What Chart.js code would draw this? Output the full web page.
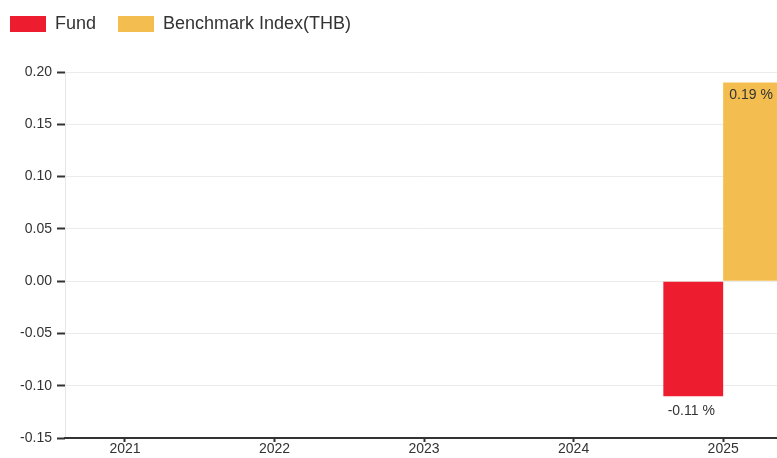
<!DOCTYPE html>
<html>
<head>
<meta charset="utf-8">
<script src="https://cdn.jsdelivr.net/npm/chart.js@4/dist/chart.umd.min.js"></script>
<style>
  html, body { margin: 0; padding: 0; background: #ffffff; overflow: hidden; }
  #wrap { width: 777px; height: 458px; position: relative; }
</style>
</head>
<body>
<div id="wrap"><canvas id="c" width="777" height="458"></canvas></div>
<script>
// ---- data ----
const years = [2021, 2022, 2023, 2024, 2025];
const fundReturns = [null, null, null, null, -0.11];
const benchmarkReturns = [null, null, null, null, 0.19];
const yAxisMin = -0.15;
const yAxisMax = 0.20;
const yAxisStep = 0.05;
const seriesNames = ['Fund', 'Benchmark Index(THB)'];
const seriesColors = ['#ED1C2E', '#F3BE4F'];

const FONT = "'Liberation Sans', Arial, sans-serif";
const TEXT = '#333333';

const toPoints = arr => years.map((x, i) => ({ x: x, y: arr[i] }));

const barLabels = {
  id: 'barLabels',
  afterDatasetsDraw(chart) {
    const ctx = chart.ctx;
    ctx.save();
    ctx.font = '14px ' + FONT;
    ctx.fillStyle = TEXT;
    ctx.textAlign = 'center';
    ctx.textBaseline = 'middle';
    chart.data.datasets.forEach((ds, di) => {
      const meta = chart.getDatasetMeta(di);
      meta.data.forEach((bar, i) => {
        const v = ds.data[i].y;
        if (v === null || v === undefined) return;
        const txt = v.toFixed(2) + ' %';
        const y = v >= 0 ? bar.y + 13 : bar.y + 15;
        ctx.fillText(txt, bar.x - 2, y);
      });
    });
    ctx.restore();
  }
};

new Chart(document.getElementById('c'), {
  type: 'bar',
  data: {
    datasets: [
      { label: seriesNames[0], data: toPoints(fundReturns), backgroundColor: seriesColors[0], borderWidth: 0 },
      { label: seriesNames[1], data: toPoints(benchmarkReturns), backgroundColor: seriesColors[1], borderWidth: 0 }
    ]
  },
  options: {
    responsive: false,
    animation: false,
    categoryPercentage: 0.8,
    barPercentage: 1.0,
    layout: { padding: { top: -7, left: -12, right: 0, bottom: 0 } },
    plugins: {
      tooltip: { enabled: false },
      legend: {
        position: 'top',
        align: 'start',
        weight: 1000,
        labels: {
          boxWidth: 36,
          boxHeight: 16,
          padding: 22,
          color: TEXT,
          font: { family: FONT, size: 18 }
        }
      },
      title: {
        display: true,
        text: ' ',
        weight: 500,
        font: { size: 10, lineHeight: 1 },
        padding: { top: 19, bottom: 0 }
      }
    },
    scales: {
      x: {
        type: 'linear',
        offset: false,
        min: 2020.599,
        max: 2025.36,
        afterBuildTicks: s => { s.ticks = years.map(v => ({ value: v })); },
        afterFit: s => { s.height = 20; },
        ticks: {
          includeBounds: false,
          color: TEXT,
          padding: 0,
          font: { family: FONT, size: 14, lineHeight: 1 },
          callback: v => String(v),
          maxRotation: 0,
          autoSkip: false
        },
        grid: {
          offset: false,
          drawOnChartArea: false,
          drawTicks: true,
          tickLength: 4,
          tickWidth: 2,
          tickColor: '#333333',
          color: '#333333'
        },
        border: { display: true, color: '#333333', width: 2, z: 1 }
      },
      y: {
        min: yAxisMin,
        max: yAxisMax,
        afterFit: s => { s.width = 77; },
        ticks: {
          stepSize: yAxisStep,
          color: TEXT,
          padding: 5,
          font: { family: FONT, size: 14 },
          callback: v => (Math.abs(v) < 1e-9 ? 0 : v).toFixed(2)
        },
        grid: {
          color: '#ebebeb',
          lineWidth: 1,
          tickLength: 8,
          tickWidth: 2,
          tickColor: '#333333'
        },
        border: { display: true, color: '#e6e6e6', width: 1 }
      }
    }
  },
  plugins: [barLabels]
});
</script>
</body>
</html>
